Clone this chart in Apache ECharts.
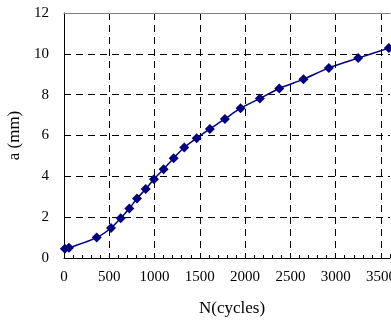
<!DOCTYPE html>
<html>
<head>
<meta charset="utf-8">
<script src="https://cdn.jsdelivr.net/npm/echarts@6/dist/echarts.min.js"></script>
<style>
  html, body { margin: 0; padding: 0; background: #fff; }
  #chart { width: 391px; height: 322px; }
</style>
</head>
<body>
<div id="chart"></div>
<script>
// 数据
let cycles = [10, 55, 361, 519, 626, 721, 806, 902, 993, 1100, 1211, 1328, 1465, 1611, 1777, 1950, 2163, 2377, 2645, 2925, 3249, 3587];
let crack = [0.45, 0.5, 1.0, 1.47, 1.95, 2.42, 2.91, 3.38, 3.86, 4.35, 4.89, 5.41, 5.87, 6.32, 6.81, 7.34, 7.81, 8.30, 8.76, 9.31, 9.79, 10.28];

let font = "'Liberation Serif', 'DejaVu Serif', serif";

let chart = echarts.init(document.getElementById('chart'), null, { renderer: 'canvas' });

let dash = { color: '#000', width: 1, type: [7, 5] };

chart.setOption({
    backgroundColor: '#fff',
    animation: false,
    grid: { left: 64, top: 13, right: 1, bottom: 64, outerBoundsMode: 'none' },
    xAxis: [{
        type: 'value',
        min: 0,
        max: 3600,
        interval: 500,
        name: 'N(cycles)',
        nameLocation: 'middle',
        nameGap: 42,
        nameTextStyle: { fontFamily: font, fontSize: 17, color: '#000', padding: [0, 0, 0, 10] },
        axisLine: { lineStyle: { color: '#000', width: 1 } },
        axisTick: { inside: true, length: 4, lineStyle: { color: '#000' } },
        minorTick: { show: true, splitNumber: 5, length: 3, lineStyle: { color: '#000' } },
        axisLabel: { fontFamily: font, fontSize: 15, color: '#000', margin: 12, showMaxLabel: false, formatter: v => String(v) },
        splitLine: { show: true, showMaxLine: false, lineStyle: dash }
    }, {
        type: 'value',
        position: 'top',
        min: 0,
        max: 3600,
        axisLine: { show: true, lineStyle: { color: '#808080', width: 1 } },
        axisTick: { show: false },
        axisLabel: { show: false },
        splitLine: { show: false }
    }],
    yAxis: {
        type: 'value',
        min: 0,
        max: 12,
        interval: 2,
        name: 'a (mm)',
        nameLocation: 'middle',
        nameGap: 40,
        nameTextStyle: { fontFamily: font, fontSize: 17, color: '#000' },
        axisLine: { show: true, lineStyle: { color: '#000', width: 1 } },
        axisTick: { show: false },
        axisLabel: { fontFamily: font, fontSize: 15, color: '#000', margin: 15 },
        splitLine: { show: true, showMaxLine: false, lineStyle: dash }
    },
    series: [{
        type: 'line',
        data: cycles.map((n, i) => [n, crack[i]]),
        smooth: 0.3,
        symbol: 'diamond',
        symbolSize: 10,
        lineStyle: { color: '#000080', width: 1.5 },
        itemStyle: { color: '#000080' }
    }]
});
</script>
</body>
</html>
